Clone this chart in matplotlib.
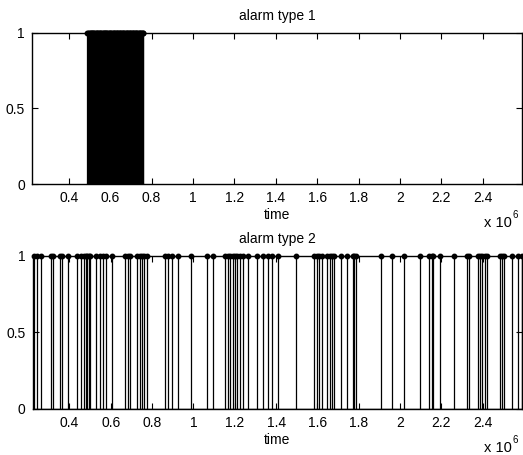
import numpy as np
import matplotlib
matplotlib.use("Agg")
import matplotlib.pyplot as plt

plt.rcParams['font.family'] = ['Liberation Sans', 'DejaVu Sans']

# ---- data (time in units of 1e6) ----
times_type1 = [0.490, 0.494, 0.497, 0.501, 0.505, 0.508, 0.512, 0.516, 0.519, 0.523,
               0.527, 0.531, 0.534, 0.538, 0.542, 0.545, 0.549, 0.553, 0.556, 0.560,
               0.564, 0.568, 0.571, 0.575, 0.579, 0.582, 0.586, 0.590, 0.594, 0.597,
               0.601, 0.605, 0.608, 0.612, 0.616, 0.620, 0.623, 0.627, 0.631, 0.634,
               0.638, 0.642, 0.645, 0.649, 0.653, 0.657, 0.660, 0.664, 0.668, 0.671,
               0.675, 0.679, 0.683, 0.686, 0.690, 0.694, 0.697, 0.701, 0.705, 0.709,
               0.712, 0.716, 0.720, 0.723, 0.727, 0.731, 0.735, 0.738, 0.742, 0.746,
               0.749, 0.753, 0.757, 0.760]
values_type1 = [1] * len(times_type1)

times_type2 = [0.226, 0.245, 0.263, 0.310, 0.320, 0.352, 0.363, 0.395, 0.436, 0.455,
               0.468, 0.481, 0.487, 0.494, 0.500, 0.529, 0.549, 0.564, 0.578, 0.605,
               0.669, 0.681, 0.694, 0.726, 0.739, 0.750, 0.761, 0.774, 0.863, 0.879,
               0.895, 0.923, 0.987, 1.068, 1.097, 1.153, 1.169, 1.178, 1.193, 1.202,
               1.210, 1.226, 1.242, 1.266, 1.307, 1.336, 1.363, 1.379, 1.411, 1.497,
               1.585, 1.597, 1.608, 1.624, 1.648, 1.661, 1.669, 1.682, 1.713, 1.742,
               1.771, 1.777, 1.787, 1.907, 1.963, 2.021, 2.097, 2.142, 2.153, 2.161,
               2.193, 2.263, 2.323, 2.335, 2.379, 2.387, 2.395, 2.411, 2.419, 2.484,
               2.495, 2.505, 2.540, 2.572, 2.588]
values_type2 = [1] * len(times_type2)

titles = ["alarm type 1", "alarm type 2"]
x_ticks = [0.4, 0.6, 0.8, 1.0, 1.2, 1.4, 1.6, 1.8, 2.0, 2.2, 2.4]
y_ticks = [0, 0.5, 1]
scale = 1e6
x_range = (0.222, 2.590)

fig = plt.figure(figsize=(5.23, 4.55), dpi=100)
ax1 = fig.add_axes([0.0612, 0.5956, 0.9368, 0.3319])
ax2 = fig.add_axes([0.0625, 0.1011, 0.9355, 0.3363])

for ax, t, v, title in [(ax1, times_type1, values_type1, titles[0]),
                        (ax2, times_type2, values_type2, titles[1])]:
    tt = np.array(t) * scale
    ml, sl, bl = ax.stem(tt, v, linefmt='k-', markerfmt='ko', basefmt='k-')
    plt.setp(sl, linewidth=0.9)
    plt.setp(ml, markersize=3.2, clip_on=False, zorder=4)
    plt.setp(bl, linewidth=1.0)
    ax.set_xlim(x_range[0] * scale, x_range[1] * scale)
    ax.set_ylim(0, 1)
    ax.set_xticks([x * scale for x in x_ticks])
    ax.set_xticklabels(['%g' % x for x in x_ticks])
    ax.set_yticks(y_ticks)
    ax.set_yticklabels(['%g' % y for y in y_ticks])
    ax.tick_params(direction='in', length=4, width=0.8, top=True, right=True,
                   labelsize=10, pad=5)
    for s in ax.spines.values():
        s.set_linewidth(1.0)
    ax.set_title(title, fontsize=10, pad=9)
    ax.set_xlabel("time", fontsize=10, labelpad=2)
    ax.annotate("x 10", xy=(1, 0), xycoords='axes fraction',
                xytext=(-7, -31), textcoords='offset points',
                ha='right', va='baseline', fontsize=10.5)
    ax.annotate("6", xy=(1, 0), xycoords='axes fraction',
                xytext=(-6.5, -24.5), textcoords='offset points',
                ha='left', va='baseline', fontsize=7)

fig.savefig("out.png", dpi=100)
